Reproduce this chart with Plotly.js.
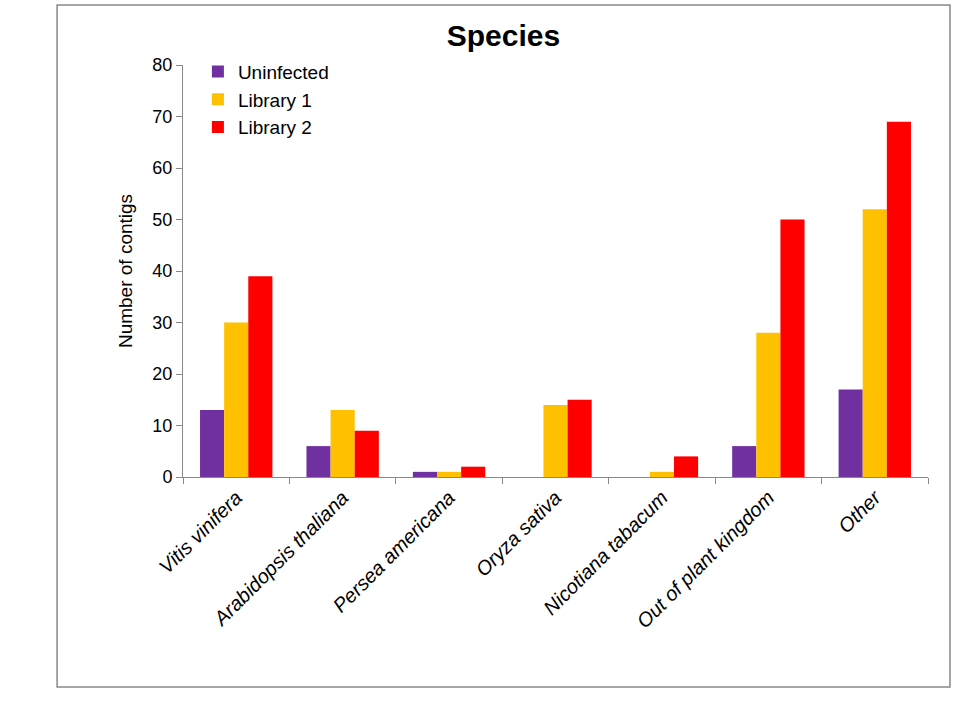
<!DOCTYPE html>
<html>
<head>
<meta charset="utf-8">
<script src="https://cdn.plot.ly/plotly-3.0.1.min.js"></script>
<style>body{margin:0;background:#fff}#chart{width:972px;height:714px}</style>
</head>
<body>
<div id="chart"></div>
<script>
const categories = ['Vitis vinifera', 'Arabidopsis thaliana', 'Persea americana', 'Oryza sativa',
  'Nicotiana tabacum', 'Out of plant kingdom', 'Other'];
const uninfected = [13, 6, 1, 0, 0, 6, 17];
const library1 = [30, 13, 1, 14, 1, 28, 52];
const library2 = [39, 9, 2, 15, 4, 50, 69];

const labels = categories.map(c => '<i>' + c + '</i>');

const traces = [
  { name: 'Uninfected', y: uninfected, color: '#7030A0' },
  { name: 'Library 1', y: library1, color: '#FFC000' },
  { name: 'Library 2', y: library2, color: '#FF0000' }
].map(s => ({
  type: 'bar',
  x: labels,
  y: s.y,
  name: s.name,
  marker: { color: s.color }
}));

const layout = {
  width: 972,
  height: 714,
  font: { family: 'Liberation Sans, Arial, sans-serif', size: 18, color: '#000' },
  title: { text: '<b>Species</b>', font: { size: 30 }, x: 0.518, xref: 'container', y: 0.965, yref: 'container', yanchor: 'top' },
  margin: { l: 183, r: 44, t: 65, b: 237 },
  barmode: 'group',
  bargap: 0.32,
  bargroupgap: 0,
  showlegend: true,
  legend: { x: 0.02, y: 1.03, xanchor: 'left', yanchor: 'top', font: { size: 19 }, bgcolor: 'rgba(0,0,0,0)', itemwidth: 30 },
  xaxis: {
    type: 'category',
    tickangle: -45,
    tickson: 'boundaries',
    ticks: 'outside',
    ticklen: 6,
    tickcolor: '#888',
    showline: true,
    linecolor: '#888',
    tickfont: { size: 20 }
  },
  yaxis: {
    range: [0, 80],
    dtick: 10,
    ticks: 'outside',
    ticklen: 6,
    tickcolor: '#888',
    showline: true,
    linecolor: '#888',
    showgrid: false,
    zeroline: false,
    tickfont: { size: 18 },
    title: { text: 'Number of contigs', font: { size: 19 }, standoff: 14 }
  },
  paper_bgcolor: '#fff',
  plot_bgcolor: '#fff',
  shapes: [{
    type: 'rect', xref: 'paper', yref: 'paper',
    x0: -0.169, x1: 1.0295, y0: -0.5097, y1: 1.1456,
    line: { color: '#888', width: 1.5 }
  }]
};

Plotly.newPlot('chart', traces, layout, { displayModeBar: false });
</script>
</body>
</html>
